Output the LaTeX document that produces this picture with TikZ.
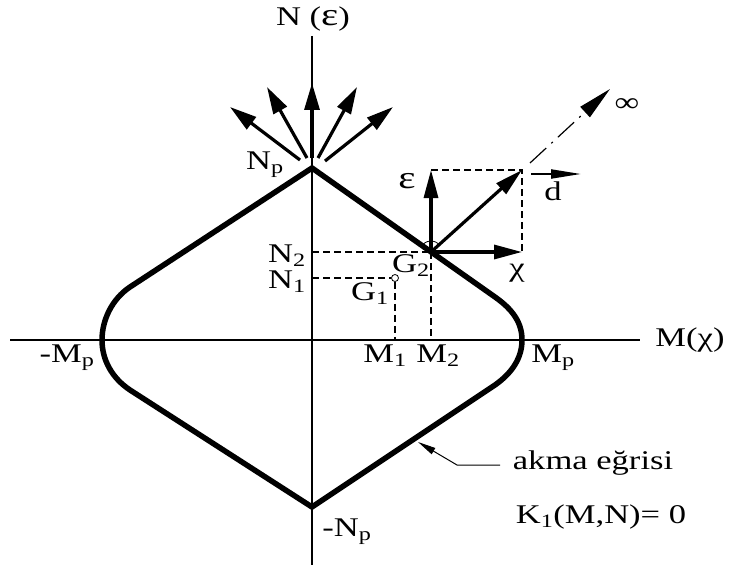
\documentclass[tikz,border=0pt]{standalone}
\usepackage{fontspec}
\setmainfont[FakeStretch=1.28]{Liberation Serif}
\usetikzlibrary{arrows.meta}
\newcommand{\bigeps}{{\fontsize{32}{32}\selectfont ε}}
\begin{document}
\begin{tikzpicture}[x=1pt,y=-1pt,
  font=\fontsize{27}{30}\selectfont,
  axis/.style={line width=1.3pt},
  curve/.style={line width=5.5pt, line join=miter},
  fanarrow/.style={line width=3.2pt, -{Triangle[length=27pt,width=15pt]}},
  vec/.style={line width=3.2pt, -{Triangle[length=28pt,width=14pt]}},
  guide/.style={line width=1.2pt, dash pattern=on 7pt off 4pt},
  lbl/.style={inner sep=0pt}]
\useasboundingbox (0,0) rectangle (736,575);
% axes
\coordinate (vtop) at (312,36);
\coordinate (vbot) at (312,565);
\coordinate (hl) at (10,340);
\coordinate (hr) at (640,340);
\draw[axis] (vtop) -- (vbot);
\draw[axis] (hl) -- (hr);
\node[lbl] (Nax) at (313,19) {N (\bigeps)};
\node[lbl] (Max) at (690,340) {M(χ)};
% yield curve
\coordinate (Np) at (312,168);
\coordinate (Nm) at (312,507);
\coordinate (Mpl) at (102,340);
\coordinate (Mpr) at (522,340);
\draw[curve] (Np) -- (130,287) .. controls (112,299) and (102,320) .. (Mpl)
  .. controls (102,360) and (112,378) .. (130,390) -- (Nm) -- (495,385)
  .. controls (512,373) and (522,358) .. (Mpr)
  .. controls (522,322) and (512,309) .. (495,297) -- cycle;
% fan arrows
\coordinate (f1s) at (300,160); \coordinate (f1e) at (230,107);
\coordinate (f2s) at (307,158); \coordinate (f2e) at (267,87);
\coordinate (f3s) at (312,158); \coordinate (f3e) at (312,83);
\coordinate (f4s) at (318,158); \coordinate (f4e) at (357,87);
\coordinate (f5s) at (325,161); \coordinate (f5e) at (393,107);
\draw[fanarrow] (f1s) -- (f1e);
\draw[fanarrow] (f2s) -- (f2e);
\draw[fanarrow] (f3s) -- (f3e);
\draw[fanarrow] (f4s) -- (f4e);
\draw[fanarrow] (f5s) -- (f5e);
% points G1, G2
\coordinate (G2) at (431,252);
\node[circle, draw, inner sep=0pt, minimum size=7pt, line width=0.8pt, fill=white] (G1) at (395,278) {};
\coordinate (N2t) at (312,252);
\coordinate (N1t) at (312,278);
\coordinate (M1f) at (395,340);
\coordinate (M2f) at (431,340);
\draw[guide] (N2t) -- (G2);
\draw[guide] (N1t) -- (G1.west);
\draw[guide] (G1.south) -- (M1f);
\draw[guide] (G2) -- (M2f);
% vectors at G2
\coordinate (Etip) at (431,170);
\coordinate (Xtip) at (522,252);
\coordinate (Dc) at (522,170);
\coordinate (Dd) at (530,163);
\coordinate (Inf) at (610,89);
\draw[guide] (Etip) -- (Dc) -- (Xtip);
\draw[vec] (G2) -- (Etip);
\draw[vec] (G2) -- (Xtip);
\draw[vec] (G2) -- (Dc);
\draw[line width=1.2pt, dash pattern=on 22pt off 7pt on 2pt off 7pt,
  -{Triangle[length=34pt,width=14pt]}] (Dd) -- (Inf);
\draw[line width=0.8pt] (G2) ++(-35:11) arc (-35:-150:11);
\coordinate (d0) at (531,174);
\coordinate (d1) at (581,174);
\draw[line width=2pt, -{Triangle[length=30pt,width=9pt]}] (d0) -- (d1);
% leader
\coordinate (L2) at (500,465);
\coordinate (L1) at (457,465);
\coordinate (L0) at (418,442);
\draw[line width=1pt, -{Triangle[length=18pt,width=7pt]}] (L2) -- (L1) -- (L0);
% labels
\node[lbl] (lNp) at (265,165) {N\textsubscript{p}};
\node[lbl] (lNm) at (347,532) {-N\textsubscript{p}};
\node[lbl] (lMl) at (67,358) {-M\textsubscript{p}};
\node[lbl] (lMr) at (553,358) {M\textsubscript{p}};
\node[lbl] (lN2) at (287,256) {N\textsubscript{2}};
\node[lbl] (lN1) at (287,282) {N\textsubscript{1}};
\node[lbl] (lG2) at (411,266) {G\textsubscript{2}};
\node[lbl] (lG1) at (370,294) {G\textsubscript{1}};
\node[lbl] (lM1) at (385,356) {M\textsubscript{1}};
\node[lbl] (lM2) at (438,356) {M\textsubscript{2}};
\node[lbl] (le) at (407,181) {\bigeps};
\node[lbl] (lx) at (517,273) {χ};
\node[lbl] (ld) at (553,191) {d};
\node[lbl] (linf) at (627,105) {∞};
\node[lbl] (lak) at (593,463) {akma eğrisi};
\node[lbl] (lK) at (601,517) {K\textsubscript{1}(M,N)= 0};
\end{tikzpicture}
\end{document}
